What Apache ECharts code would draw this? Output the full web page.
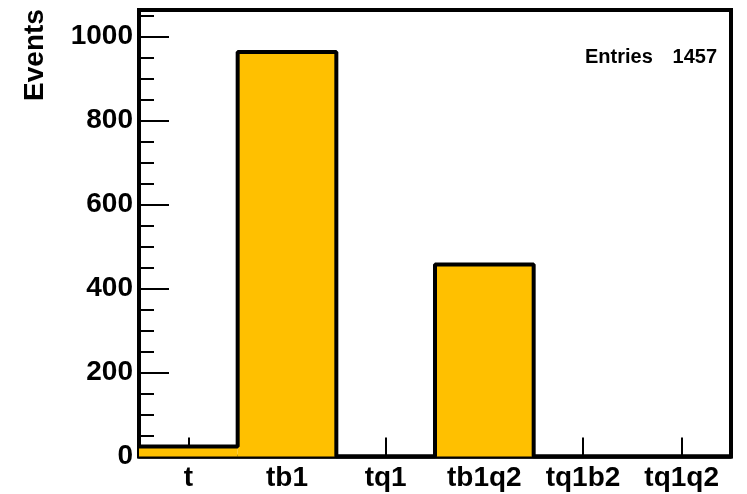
<!DOCTYPE html>
<html>
<head>
<meta charset="utf-8">
<script src="https://cdn.jsdelivr.net/npm/echarts@6/dist/echarts.min.js"></script>
<style>
  html, body { margin: 0; padding: 0; background: #fff; }
  #chart { width: 747px; height: 494px; }
</style>
</head>
<body>
<div id="chart"></div>
<script>
const categories = ['t', 'tb1', 'tq1', 'tb1q2', 'tq1b2', 'tq1q2'];
const counts = [24, 963, 0, 457, 0, 0];
const entries = 1457;
const yMajorTicks = [0, 200, 400, 600, 800, 1000];
const yMinorTicks = [0, 50, 100, 150, 200, 250, 300, 350, 400, 450, 500, 550, 600, 650, 700, 750, 800, 850, 900, 950, 1000, 1050];
const yMax = 1063;

const stepData = counts.map((v, i) => [i, v]);
stepData.push([counts.length, counts[counts.length - 1]]);

const FONT = '"Liberation Sans", Arial, Helvetica, sans-serif';
const chart = echarts.init(document.getElementById('chart'), null, { renderer: 'canvas' });

chart.setOption({
  animation: false,
  backgroundColor: '#fff',
  grid: {
    left: 139, right: 16, top: 10, bottom: 37.5,
    show: true, borderColor: '#000', borderWidth: 4, backgroundColor: 'transparent'
  },
  xAxis: [
    {
      type: 'category',
      data: categories,
      boundaryGap: true,
      axisLine: { show: true, lineStyle: { color: '#000', width: 3.5 } },
      axisTick: { show: true, inside: true, alignWithLabel: true, length: 19, lineStyle: { color: '#000', width: 2 } },
      axisLabel: { color: '#000', fontFamily: FONT, fontWeight: 'bold', fontSize: 28, margin: 8 },
      splitLine: { show: false }
    },
    {
      type: 'value', min: 0, max: categories.length, position: 'bottom', show: false
    }
  ],
  yAxis: [
    {
      type: 'value', min: 0, max: yMax, position: 'left',
      axisLine: { show: true, lineStyle: { color: '#000', width: 3 } },
      axisTick: { show: true, inside: true, length: 30, customValues: yMajorTicks, lineStyle: { color: '#000', width: 2 } },
      axisLabel: { show: true, customValues: yMajorTicks, formatter: v => String(v), color: '#000', fontFamily: FONT, fontWeight: 'bold', fontSize: 28, margin: 6 },
      splitLine: { show: false }
    },
    {
      type: 'value', min: 0, max: yMax, position: 'left',
      axisLine: { show: false },
      axisTick: { show: true, inside: true, length: 15, customValues: yMinorTicks, lineStyle: { color: '#000', width: 2 } },
      axisLabel: { show: false },
      splitLine: { show: false }
    }
  ],
  series: [
    {
      type: 'bar',
      xAxisIndex: 0, yAxisIndex: 0,
      data: counts,
      barWidth: '100%',
      barCategoryGap: 0,
      itemStyle: { color: '#FFC000' },
      z: 2
    },
    {
      type: 'line',
      xAxisIndex: 1, yAxisIndex: 0,
      data: stepData,
      step: 'end',
      showSymbol: false,
      symbol: 'none',
      lineStyle: { color: '#000', width: 4 },
      z: 3
    }
  ],
  graphic: [
    {
      type: 'text', x: 35, y: 55, rotation: Math.PI / 2,
      style: { text: 'Events', fill: '#000', font: 'bold 28px ' + FONT, textAlign: 'center', textVerticalAlign: 'middle' }
    },
    {
      type: 'text', x: 585, y: 57,
      style: { text: 'Entries', fill: '#000', font: 'bold 20px ' + FONT, textAlign: 'left', textVerticalAlign: 'middle' }
    },
    {
      type: 'text', x: 717, y: 57,
      style: { text: String(entries), fill: '#000', font: 'bold 20px ' + FONT, textAlign: 'right', textVerticalAlign: 'middle' }
    }
  ]
});
</script>
</body>
</html>
